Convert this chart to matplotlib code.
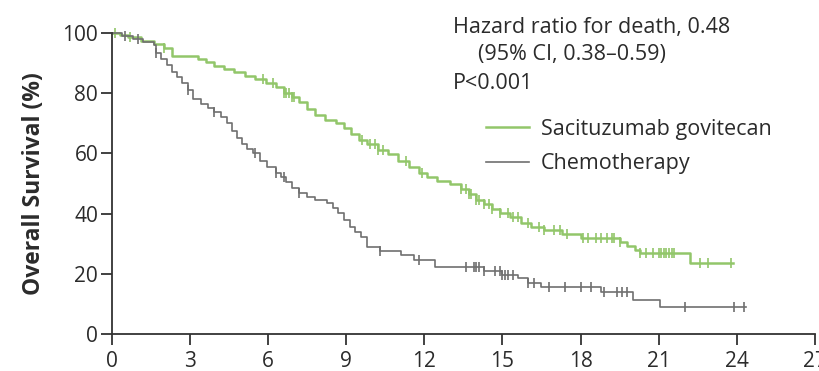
import numpy as np
import matplotlib.pyplot as plt

# Kaplan-Meier steps (months, % surviving)
sg_time = [0, 0.3, 0.6, 1.1, 1.6, 2.0, 2.3, 3.3, 3.6, 3.9, 4.3, 4.7, 5.1, 5.5, 5.9,
           6.3, 6.6, 6.9, 7.2, 7.5, 7.8, 8.2, 8.6, 8.9, 9.2, 9.5, 9.8, 10.2, 10.6,
           11.0, 11.4, 11.8, 12.1, 12.5, 13.0, 13.4, 13.7, 14.0, 14.3, 14.6, 14.9,
           15.3, 15.7, 16.1, 16.6, 17.3, 18.0, 19.5, 19.8, 20.1, 20.3, 22.2]
sg_surv = [100, 99.3, 98.6, 97.2, 96.4, 95.0, 92.2, 91.5, 90.4, 89.0, 88.2, 87.0,
           85.8, 84.6, 83.4, 82.2, 80.2, 78.8, 77.2, 74.8, 72.8, 71.0, 70.0, 68.3,
           66.6, 64.6, 63.0, 61.2, 59.8, 57.6, 55.6, 53.6, 52.0, 50.8, 49.8, 48.2,
           46.6, 44.6, 43.2, 41.6, 40.2, 38.8, 37.0, 35.6, 34.6, 33.2, 32.0, 30.6,
           29.2, 27.8, 26.8, 23.5]
sg_last = 23.85
sg_cens = [0.1, 0.7, 2.0, 5.8, 6.2, 6.6, 6.7, 6.8, 6.9, 7.0, 9.6, 9.9, 10.1, 10.2,
           10.4, 11.3, 11.9, 13.4, 13.6, 13.7, 13.8, 14.0, 14.1, 14.3, 14.5, 14.6,
           14.9, 15.2, 15.4, 15.6, 16.0, 16.4, 16.6, 17.0, 17.2, 17.5, 18.1, 18.3,
           18.6, 18.8, 19.0, 19.2, 19.3, 19.5, 20.3, 20.5, 20.8, 21.0, 21.1, 21.2,
           21.3, 21.4, 21.5, 21.6, 22.6, 22.9, 23.8]

ch_time = [0, 0.4, 0.8, 1.2, 1.6, 1.7, 1.9, 2.1, 2.3, 2.5, 2.7, 2.9, 3.1, 3.4, 3.7,
           3.9, 4.2, 4.4, 4.6, 4.8, 5.0, 5.2, 5.4, 5.7, 5.95, 6.3, 6.5, 6.7, 6.9,
           7.2, 7.5, 7.8, 8.25, 8.5, 8.7, 8.9, 9.15, 9.35, 9.55, 9.8, 10.3, 11.1,
           11.6, 12.4, 14.3, 15.0, 15.6, 16.0, 16.5, 18.8, 20.0, 21.05]
ch_surv = [100, 99, 98, 97, 96, 93.5, 91.5, 89.5, 87, 85.5, 83.5, 81, 78, 76.5, 75,
           73.8, 72, 70, 67.5, 65, 63, 61.5, 60, 57.5, 55.6, 53.4, 52, 50.6, 48.5,
           46.7, 45.5, 44.5, 43.4, 42, 40.2, 38, 35.6, 34, 32.3, 29, 27.5, 26.3,
           24.5, 22.4, 21.1, 19.6, 18.5, 16.8, 15.7, 14.1, 11.3, 9.1]
ch_last = 24.35
ch_cens = [0.5, 1.0, 1.7, 2.9, 3.9, 5.5, 6.3, 6.6, 7.2, 10.3, 11.8, 13.6, 13.9, 14.0,
           14.1, 14.3, 14.7, 14.9, 15.0, 15.1, 15.2, 15.4, 16.0, 16.2, 16.8, 17.4,
           18.0, 18.4, 18.9, 19.4, 19.6, 19.8, 22.0, 23.9, 24.3]

x_ticks = [0, 3, 6, 9, 12, 15, 18, 21, 24, 27]
y_ticks = [0, 20, 40, 60, 80, 100]

GREEN = '#92c66a'
GRAY = '#707070'
TXT = '#2b2b2b'

plt.rcParams['font.family'] = ['Open Sans', 'DejaVu Sans']

fig = plt.figure(figsize=(8.19, 3.71), dpi=100)
ax = fig.add_axes([0.1368, 0.0997, 0.858, 0.8113])


def km(ax, t, s, last, cens, color, lw, label):
    t = np.append(t, last)
    s = np.append(s, s[-1])
    ax.step(t, s, where='post', color=color, lw=lw, label=label, clip_on=False)
    cy = s[np.searchsorted(t, cens, side='right') - 1]
    ax.plot(cens, cy, ls='none', marker='|', ms=7, mew=1.2, color=color, clip_on=False)


km(ax, sg_time, sg_surv, sg_last, sg_cens, GREEN, 1.8, 'Sacituzumab govitecan')
km(ax, ch_time, ch_surv, ch_last, ch_cens, GRAY, 1.2, 'Chemotherapy')

ax.set_xlim(0, 27)
ax.set_ylim(0, 100)
ax.set_xticks(x_ticks)
ax.set_yticks(y_ticks)
ax.spines['top'].set_visible(False)
ax.spines['right'].set_visible(False)
for sp in ('left', 'bottom'):
    ax.spines[sp].set_linewidth(1.3)
    ax.spines[sp].set_color('#333333')
ax.tick_params(direction='out', length=8, width=1.3, color='#333333',
               labelsize=15, labelcolor=TXT, pad=2)
ax.tick_params(axis='x', pad=4)
ax.set_ylabel('Overall Survival (%)', fontsize=16.5, fontweight='bold',
              color=TXT, labelpad=12)

# annotation block, top right
ax.text(13.1, 101.8, 'Hazard ratio for death, 0.48', fontsize=15.5, color=TXT,
        va='center', ha='left', clip_on=False)
ax.text(14.05, 92.7, '(95% CI, 0.38\u20130.59)', fontsize=15.5, color=TXT,
        va='center', ha='left')
ax.text(13.1, 83.3, 'P<0.001', fontsize=15.5, color=TXT, va='center', ha='left')

leg = ax.legend(loc='upper left', bbox_to_anchor=(0.532, 1.0 - 0.285), frameon=False,
                fontsize=15.5, handlelength=2.0, handletextpad=0.56,
                labelspacing=0.62, borderpad=0, borderaxespad=0)
for txt in leg.get_texts():
    txt.set_color(TXT)

fig.savefig('out.png', dpi=100)
